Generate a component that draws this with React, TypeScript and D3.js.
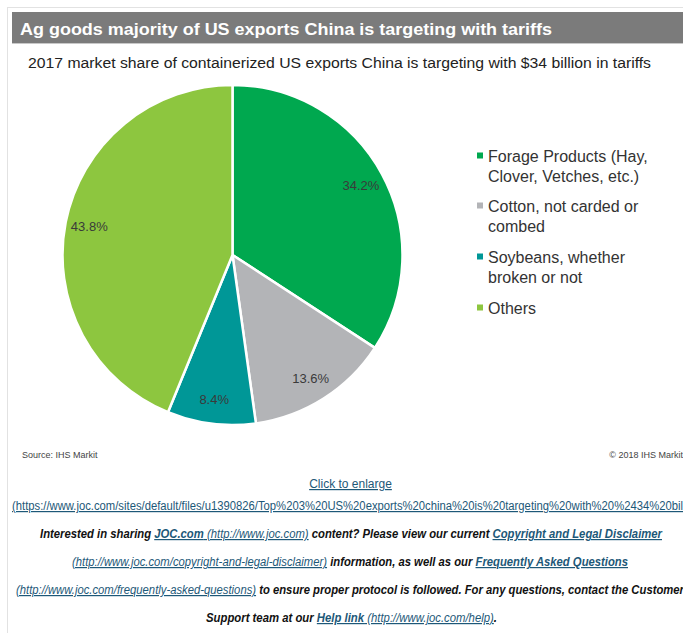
import React from "react";
import * as d3 from "d3";

const categories = [
  "Forage Products (Hay, Clover, Vetches, etc.)",
  "Cotton, not carded or combed",
  "Soybeans, whether broken or not",
  "Others",
];
const shares = [34.2, 13.6, 8.4, 43.8];
const colors = ["#00a84f", "#b3b4b7", "#009797", "#8dc63f"];
const legendLines = [
  ["Forage Products (Hay,", "Clover, Vetches, etc.)"],
  ["Cotton, not carded or", "combed"],
  ["Soybeans, whether", "broken or not"],
  ["Others"],
];

const title = "Ag goods majority of US exports China is targeting with tariffs";
const subtitle =
  "2017 market share of containerized US exports China is targeting with $34 billion in tariffs";

const FONT = "'Liberation Sans', Arial, sans-serif";
const LINK = "#1d5878";

export default function App() {
  const cx = 232.5;
  const cy = 255;
  const r = 170;
  const pie = d3
    .pie<number>()
    .sort(null)
    .value((d) => d)
    .startAngle(0)
    .endAngle(2 * Math.PI);
  const arcs = pie(shares);
  const arc = d3.arc<d3.PieArcDatum<number>>().innerRadius(0).outerRadius(r);
  const labelArc = d3
    .arc<d3.PieArcDatum<number>>()
    .innerRadius(146)
    .outerRadius(146);

  const legendY = [162, 212, 263, 314];

  return (
    <div style={{ position: "absolute", left: 0, top: 0 }}>
      <svg width={683} height={633} style={{ display: "block", fontFamily: FONT }}>
        <rect x={0} y={0} width={683} height={633} fill="#ffffff" />
        <line x1={7} y1={7.5} x2={683} y2={7.5} stroke="#e2e2e2" strokeWidth={1} />
        <line x1={7.5} y1={7} x2={7.5} y2={633} stroke="#e2e2e2" strokeWidth={1} />
        <rect x={12} y={12} width={671} height={31} fill="#7b7b7b" />
        <line x1={12} y1={43.5} x2={683} y2={43.5} stroke="#c8c8c8" strokeWidth={1} />
        <text
          x={20}
          y={35}
          fill="#ffffff"
          fontSize={17}
          fontWeight="bold"
          textLength={532}
          lengthAdjust="spacingAndGlyphs"
        >
          {title}
        </text>
        <text
          x={28}
          y={68}
          fill="#222222"
          fontSize={14}
          textLength={623}
          lengthAdjust="spacingAndGlyphs"
        >
          {subtitle}
        </text>

        <g transform={`translate(${cx},${cy})`}>
          {arcs.map((a, i) => (
            <path
              key={categories[i]}
              d={arc(a) || ""}
              fill={colors[i]}
              stroke="#ffffff"
              strokeWidth={2.5}
              strokeLinejoin="round"
            />
          ))}
          {arcs.map((a, i) => {
            const [lx, ly] = labelArc.centroid(a);
            return (
              <text
                key={"l" + i}
                x={lx}
                y={ly}
                dy="0.35em"
                textAnchor="middle"
                fontSize={13}
                fill="#3a3a3a"
              >
                {d3.format(".1f")(shares[i])}%
              </text>
            );
          })}
        </g>

        {legendLines.map((lines, i) => (
          <g key={"lg" + i}>
            <rect x={477} y={legendY[i] - 9.5} width={6} height={6} fill={colors[i]} />
            {lines.map((t, j) => (
              <text key={j} x={488} y={legendY[i] + j * 20} fontSize={16} fill="#333333">
                {t}
              </text>
            ))}
          </g>
        ))}

        <text x={22} y={458} fontSize={9} fill="#444444">
          Source: IHS Markit
        </text>
        <text x={683} y={458} fontSize={9} fill="#444444" textAnchor="end">
          © 2018 IHS Markit
        </text>

        <text x={350.5} y={488} fontSize={12} fill={LINK} textAnchor="middle" textDecoration="underline">
          Click to enlarge
        </text>
        <text
          x={12}
          y={510}
          fontSize={12}
          fill={LINK}
          textDecoration="underline"
          textLength={671}
          lengthAdjust="spacingAndGlyphs"
        >
          (https://www.joc.com/sites/default/files/u1390826/Top%203%20US%20exports%20china%20is%20targeting%20with%20%2434%20bil
        </text>

        <text
          x={40}
          y={538}
          fontSize={12}
          fontStyle="italic"
          fill="#111111"
          textLength={622}
          lengthAdjust="spacingAndGlyphs"
        >
          <tspan fontWeight="bold">Interested in sharing </tspan>
          <tspan fontWeight="bold" fill={LINK} textDecoration="underline">JOC.com</tspan>
          <tspan fill={LINK} textDecoration="underline"> (http://www.joc.com)</tspan>
          <tspan fontWeight="bold"> content? Please view our current </tspan>
          <tspan fontWeight="bold" fill={LINK} textDecoration="underline">Copyright and Legal Disclaimer</tspan>
        </text>
        <text
          x={72}
          y={566}
          fontSize={12}
          fontStyle="italic"
          fill="#111111"
          textLength={556}
          lengthAdjust="spacingAndGlyphs"
        >
          <tspan fill={LINK} textDecoration="underline">(http://www.joc.com/copyright-and-legal-disclaimer)</tspan>
          <tspan fontWeight="bold"> information, as well as our </tspan>
          <tspan fontWeight="bold" fill={LINK} textDecoration="underline">Frequently Asked Questions</tspan>
        </text>
        <text
          x={16}
          y={594}
          fontSize={12}
          fontStyle="italic"
          fill="#111111"
          textLength={668}
          lengthAdjust="spacingAndGlyphs"
        >
          <tspan fill={LINK} textDecoration="underline">(http://www.joc.com/frequently-asked-questions)</tspan>
          <tspan fontWeight="bold"> to ensure proper protocol is followed. For any questions, contact the Customer</tspan>
        </text>
        <text
          x={206}
          y={622}
          fontSize={12}
          fontStyle="italic"
          fill="#111111"
          textLength={291}
          lengthAdjust="spacingAndGlyphs"
        >
          <tspan fontWeight="bold">Support team at our </tspan>
          <tspan fontWeight="bold" fill={LINK} textDecoration="underline">Help link</tspan>
          <tspan fill={LINK} textDecoration="underline"> (http://www.joc.com/help)</tspan>
          <tspan fontWeight="bold">.</tspan>
        </text>
      </svg>
    </div>
  );
}
